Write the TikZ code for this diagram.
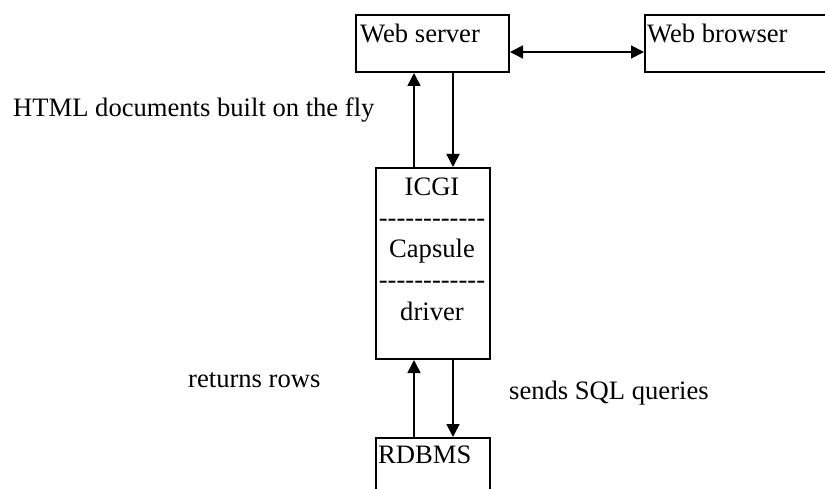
\documentclass[tikz,border=0pt]{standalone}
\usepackage{fontspec}
\setmainfont{Liberation Serif}
\usetikzlibrary{arrows.meta}
\newcommand\hyrow{-\kern0pt-\kern0pt-\kern0pt-\kern0pt-\kern0pt-\kern0pt-\kern0pt-\kern0pt-\kern0pt-\kern0pt-\kern0pt-}
\begin{document}
\begin{tikzpicture}[x=1pt,y=-1pt,
  box/.style={draw,line width=2pt,rectangle,inner sep=0pt,anchor=north west},
  txt/.style={inner sep=0pt,font=\fontsize{26.6}{31}\selectfont},
  arr/.style={line width=1.6pt,-{Triangle[length=13pt,width=13pt]}},
  darr/.style={line width=1.6pt,{Triangle[length=13pt,width=13pt]}-{Triangle[length=13pt,width=13pt]}}]
\useasboundingbox (0,0) rectangle (825,489);
\clip (0,0) rectangle (825,489);
% boxes
\node[box,minimum width=153pt,minimum height=57pt] (ws) at (355,14) {};
\node[box,minimum width=200pt,minimum height=57pt] (wb) at (644,14) {};
\node[box,minimum width=114pt,minimum height=191pt] (icgi) at (375,167) {};
\node[box,minimum width=114pt,minimum height=80pt] (db) at (375,437) {};
% box texts
\node[txt,anchor=base west] (wst) at (360,43) {Web server};
\node[txt,anchor=base west] (wbt) at (647,43) {Web browser};
\node[txt,anchor=base] (t1) at (432,196) {ICGI};
\node[txt,anchor=base] (t2) at (432,227) {\hyrow};
\node[txt,anchor=base] (t3) at (432,258) {Capsule};
\node[txt,anchor=base] (t4) at (432,289) {\hyrow};
\node[txt,anchor=base] (t5) at (432,320) {driver};
\node[txt,anchor=base west] (dbt) at (378,463) {RDBMS};
% free labels
\node[txt,anchor=base west] (html) at (13,117) {HTML documents built on the fly};
\node[txt,anchor=base west] (rr) at (188,387) {returns rows};
\node[txt,anchor=base west] (sq) at (509,399) {sends SQL queries};
% connectors
\draw[darr] (ws.east |- 0,52) -- (wb.west |- 0,52);
\draw[arr] ([xshift=-19pt]icgi.north) -- ([xshift=-19pt]icgi.north |- ws.south);
\draw[arr] ([xshift=20pt]icgi.north |- ws.south) -- ([xshift=20pt]icgi.north);
\draw[arr] ([xshift=-19pt]db.north) -- ([xshift=-19pt]db.north |- icgi.south);
\draw[arr] ([xshift=20pt]db.north |- icgi.south) -- ([xshift=20pt]db.north);
\end{tikzpicture}
\end{document}
